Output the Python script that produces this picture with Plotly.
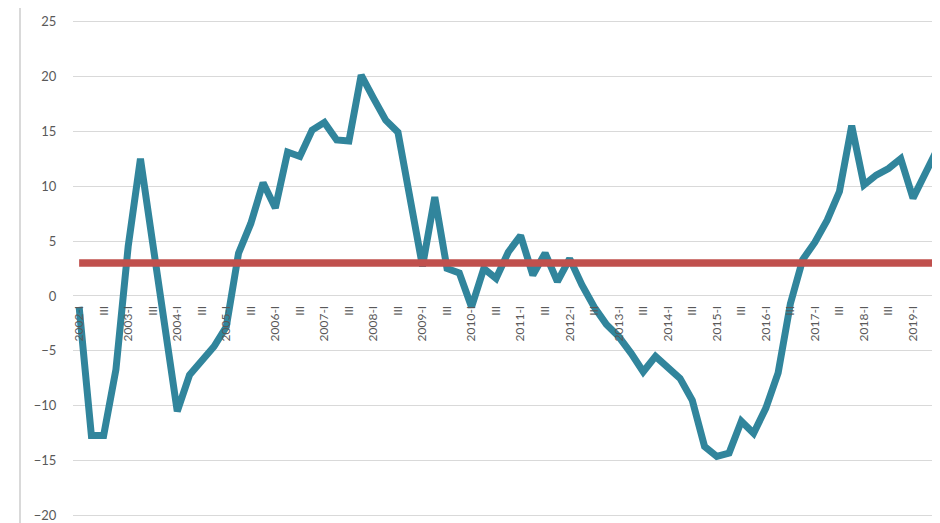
import plotly.graph_objects as go

years = list(range(2002, 2020))
quarters = ["I", "II", "III", "IV"]

# category labels: "YYYY-I", "II", "III", "IV", ...
categories = []
for y in years:
    for q in quarters:
        categories.append(f"{y}-{q}" if q == "I" else q)
categories = categories[:71]  # through 2019-III

values = [
    -1.0, -12.7, -12.7, -6.7,      # 2002
    4.5, 12.5, 4.8, -2.8,          # 2003
    -10.5, -7.2, -6.0, -4.6,       # 2004
    -2.8, 3.9, 6.6, 10.3,          # 2005
    8.0, 13.1, 12.7, 15.1,         # 2006
    15.8, 14.2, 14.1, 20.1,        # 2007
    18.0, 16.0, 14.9, 9.0,         # 2008
    2.7, 9.0, 2.5, 2.1,            # 2009
    -1.0, 2.5, 1.6, 4.0,           # 2010
    5.5, 1.9, 3.9, 1.3,            # 2011
    3.4, 1.0, -1.0, -2.6,          # 2012
    -3.7, -5.2, -6.9, -5.5,        # 2013
    -6.6, -7.5, -9.5, -13.7,       # 2014
    -14.6, -14.3, -11.4, -12.5,    # 2015
    -10.2, -7.0, -0.7, 3.3,        # 2016
    4.9, 6.9, 9.5, 15.5,           # 2017
    10.1, 11.0, 11.6, 12.5,        # 2018
    8.9, 11.2, 13.4,               # 2019
]

average_value = 3.0
average = [average_value] * len(values)

x_idx = list(range(len(values)))
tick_vals = x_idx[::2]
tick_text = categories[::2]

fig = go.Figure()
fig.add_trace(go.Scatter(
    x=x_idx, y=values, mode="lines",
    line=dict(color="#31859C", width=7),
    hoverinfo="skip", showlegend=False,
))
fig.add_trace(go.Scatter(
    x=x_idx, y=average, mode="lines",
    line=dict(color="#C0504D", width=7.5),
    hoverinfo="skip", showlegend=False,
))

y_lo, y_hi = -20.3, 25.3

# page body has an 8px margin: size/margins compensate for it
fig.update_layout(
    width=932, height=515,
    margin=dict(l=65, r=0, t=10, b=4, autoexpand=False),
    paper_bgcolor="white", plot_bgcolor="white",
    font=dict(family="Lato, Liberation Sans, sans-serif", color="#595959"),
    xaxis=dict(
        range=[-0.5, 70.2],
        tickmode="array", tickvals=tick_vals, ticktext=tick_text,
        tickangle=-90,
        tickfont=dict(size=12, color="#595959"),
        showgrid=False, zeroline=False, showline=False,
        ticks="outside", ticklen=4, tickcolor="rgba(0,0,0,0)",
        anchor="free", position=(0 - y_lo) / (y_hi - y_lo),
        automargin=False, ticklabeloverflow="allow",
    ),
    yaxis=dict(
        range=[y_lo, y_hi],
        tickmode="linear", tick0=0, dtick=5,
        tickfont=dict(size=13, color="#595959"),
        showgrid=True, gridcolor="#D9D9D9", gridwidth=1,
        zeroline=False, showline=False,
        ticks="outside", ticklen=13, tickcolor="rgba(0,0,0,0)",
        automargin=False, ticklabeloverflow="allow",
    ),
    shapes=[dict(
        type="line", xref="paper", yref="paper",
        x0=-53 / 867, x1=-53 / 867, y0=-0.05, y1=1.05,
        line=dict(color="#D9D9D9", width=2),
    )],
)

fig.write_html("out.html")
